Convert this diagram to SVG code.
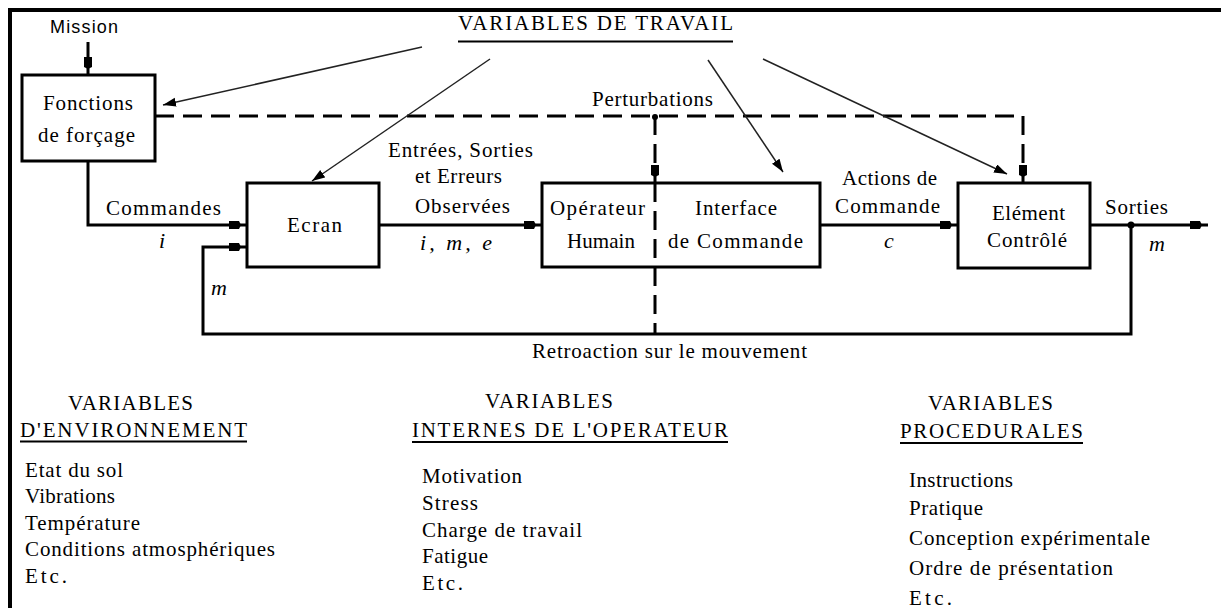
<svg xmlns="http://www.w3.org/2000/svg" width="1221" height="608" viewBox="0 0 1221 608">
<style>
.t{font-family:'Liberation Serif','Times New Roman',Times,serif;font-size:21px;fill:#000}
.it{font-family:'Liberation Serif','Times New Roman',Times,serif;font-size:22px;font-style:italic;fill:#000}
.s{font-family:'Liberation Sans',Arial,sans-serif;font-size:18px;fill:#000}
.box{fill:#fff;stroke:#000;stroke-width:3}
.ln{fill:none;stroke:#000;stroke-width:3}
.dash{fill:none;stroke:#000;stroke-width:3;stroke-dasharray:19 9}
.thin{fill:none;stroke:#222;stroke-width:1.5}
.ul{stroke:#000;stroke-width:2}
</style>
<defs>
<marker id="blk" markerUnits="userSpaceOnUse" markerWidth="20" markerHeight="12" refX="19" refY="6" orient="auto">
<path d="M1,2 L11,2 L13,6 L11,10 L1,10 Z" fill="#000"/>
</marker>
<marker id="tri" markerUnits="userSpaceOnUse" markerWidth="14" markerHeight="10" refX="13" refY="4.5" orient="auto">
<path d="M0,0 L13,4.5 L0,9 Z" fill="#000"/>
</marker>
</defs>
<rect width="1221" height="608" fill="#fff"/>
<path d="M10,608 V10 H1221" fill="none" stroke="#000" stroke-width="4"/>

<g id="connectors">
<line class="ln" x1="88" y1="42" x2="88" y2="75" marker-end="url(#blk)"/>
<path class="ln" d="M88,161 V225 H247" marker-end="url(#blk)"/>
<path class="ln" d="M1131,225 V334 H203 V247 H247" marker-end="url(#blk)"/>
<line class="ln" x1="379" y1="225" x2="542" y2="225" marker-end="url(#blk)"/>
<line class="ln" x1="820" y1="225" x2="958" y2="225" marker-end="url(#blk)"/>
<line class="ln" x1="1090" y1="225" x2="1208" y2="225" marker-end="url(#blk)"/>
<circle cx="1131" cy="225" r="3.5" fill="#000"/>
<path class="dash" d="M155,116 H1023 V183" marker-end="url(#blk)"/>
<line class="dash" x1="655" y1="116" x2="655" y2="183" marker-end="url(#blk)"/>
<circle cx="655" cy="117" r="3" fill="#000"/>
<line class="thin" x1="422" y1="47" x2="163" y2="105" marker-end="url(#tri)"/>
<line class="thin" x1="490" y1="59" x2="312" y2="181" marker-end="url(#tri)"/>
<line class="thin" x1="708" y1="60" x2="783" y2="172" marker-end="url(#tri)"/>
<line class="thin" x1="763" y1="59" x2="1007" y2="174" marker-end="url(#tri)"/>
</g>

<g id="fonctions">
<rect class="box" x="22" y="75" width="133" height="86"/>
<text class="t" x="43" y="110" textLength="90">Fonctions</text>
<text class="t" x="38" y="142" textLength="97">de forçage</text>
</g>

<g id="ecran">
<rect class="box" x="247" y="183" width="132" height="84"/>
<text class="t" x="287" y="232" textLength="55">Ecran</text>
</g>

<g id="operateur-interface">
<rect class="box" x="542" y="183" width="278" height="84"/>
<text class="t" x="550" y="215" textLength="95">Opérateur</text>
<text class="t" x="567" y="248" textLength="68">Humain</text>
<text class="t" x="695" y="215" textLength="82">Interface</text>
<text class="t" x="668" y="248" textLength="135">de Commande</text>
</g>
<line class="dash" x1="655" y1="183" x2="655" y2="334"/>

<g id="element">
<rect class="box" x="958" y="183" width="132" height="85"/>
<text class="t" x="992" y="220" textLength="73">Elément</text>
<text class="t" x="987" y="247" textLength="80">Contrôlé</text>
</g>

<g id="labels">
<text class="s" x="50" y="33" textLength="68">Mission</text>
<text class="t" x="458" y="30" textLength="275">VARIABLES DE TRAVAIL</text>
<line class="ul" x1="458" y1="41.5" x2="733" y2="41.5"/>
<text class="t" x="592" y="106" textLength="121">Perturbations</text>
<text class="t" x="388" y="157" textLength="145">Entrées, Sorties</text>
<text class="t" x="415" y="183" textLength="87">et Erreurs</text>
<text class="t" x="415" y="213" textLength="95">Observées</text>
<text class="t" x="106" y="215" textLength="115">Commandes</text>
<text class="it" x="159" y="248">i</text>
<text class="it" x="211" y="295">m</text>
<text class="it" x="420" y="250" textLength="72">i, m, e</text>
<text class="t" x="842" y="185" textLength="95">Actions de</text>
<text class="t" x="835" y="213" textLength="105">Commande</text>
<text class="it" x="884" y="248">c</text>
<text class="t" x="1105" y="214" textLength="63">Sorties</text>
<text class="it" x="1149" y="251">m</text>
<text class="t" x="532" y="358" textLength="275">Retroaction sur le mouvement</text>
</g>

<g id="env">
<text class="t" x="68" y="410" textLength="125">VARIABLES</text>
<text class="t" x="20" y="437" textLength="227">D'ENVIRONNEMENT</text>
<line class="ul" x1="20" y1="441.5" x2="247" y2="441.5"/>
<text class="t" x="25" y="477" textLength="98">Etat du sol</text>
<text class="t" x="25" y="503" textLength="90">Vibrations</text>
<text class="t" x="25" y="530" textLength="115">Température</text>
<text class="t" x="25" y="556" textLength="250">Conditions atmosphériques</text>
<text class="t" x="25" y="583" textLength="42">Etc.</text>
</g>

<g id="internes">
<text class="t" x="485" y="408" textLength="128">VARIABLES</text>
<text class="t" x="412" y="437" textLength="316">INTERNES DE L'OPERATEUR</text>
<line class="ul" x1="412" y1="442" x2="728" y2="442"/>
<text class="t" x="422" y="483" textLength="100">Motivation</text>
<text class="t" x="422" y="510" textLength="56">Stress</text>
<text class="t" x="422" y="537" textLength="160">Charge de travail</text>
<text class="t" x="422" y="563" textLength="66">Fatigue</text>
<text class="t" x="422" y="590" textLength="41">Etc.</text>
</g>

<g id="procedurales">
<text class="t" x="928" y="410" textLength="125">VARIABLES</text>
<text class="t" x="900" y="438" textLength="183">PROCEDURALES</text>
<line class="ul" x1="900" y1="443" x2="1083" y2="443"/>
<text class="t" x="909" y="487" textLength="104">Instructions</text>
<text class="t" x="909" y="515" textLength="74">Pratique</text>
<text class="t" x="909" y="545" textLength="241">Conception expérimentale</text>
<text class="t" x="909" y="575" textLength="204">Ordre de présentation</text>
<text class="t" x="909" y="605" textLength="43">Etc.</text>
</g>
</svg>
